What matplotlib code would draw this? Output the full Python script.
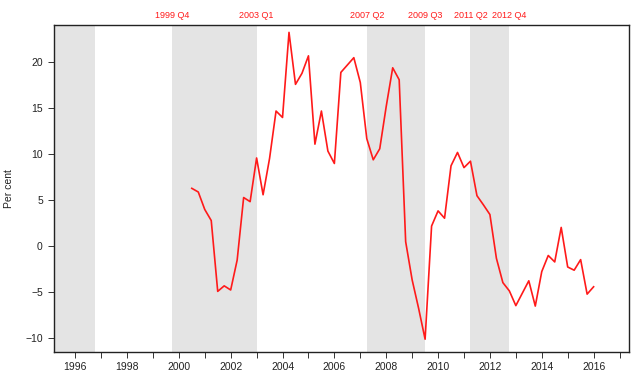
import numpy as np
import matplotlib
matplotlib.use("Agg")
import matplotlib.pyplot as plt

plt.rcParams['font.family'] = ['Liberation Sans', 'DejaVu Sans']

# quarterly series, 2000 Q3 to 2016 Q1
start = 2000.5
values = [6.3, 5.9, 4.0, 2.8, -4.9, -4.3, -4.75, -1.5,
          5.3, 4.85, 9.6, 5.6, 9.55, 14.7, 14.0, 23.25,
          17.6, 18.8, 20.7, 11.1, 14.7, 10.35, 9.0, 18.9,
          19.7, 20.5, 17.8, 11.7, 9.4, 10.6, 15.2, 19.4,
          18.1, 0.5, -3.65, -6.75, -10.1, 2.2, 3.85, 3.05,
          8.75, 10.2, 8.55, 9.25, 5.5, 4.5, 3.45, -1.3,
          -3.95, -4.85, -6.45, -5.1, -3.75, -6.5, -2.75, -1.0,
          -1.7, 2.05, -2.25, -2.6, -1.45, -5.2, -4.4]
dates = start + np.arange(len(values)) / 4

# shaded periods
shade_start = [1995.0, 1999.75, 2007.25, 2011.25]
shade_end = [1996.75, 2003.0, 2009.5, 2012.75]
shade_labels = ['1999 Q4', '2003 Q1', '2007 Q2', '2009 Q3', '2011 Q2', '2012 Q4']
label_pos = [1999.75, 2003.0, 2007.25, 2009.5, 2011.25, 2012.75]

fig = plt.figure(figsize=(6.4, 3.79), dpi=100)
ax = fig.add_axes([0.085, 0.071, 0.898, 0.863])

for s, e in zip(shade_start, shade_end):
    ax.axvspan(s, e, color='#e4e4e4', lw=0, zorder=0)

ax.plot(dates, values, color='#ff1a1a', lw=1.2, zorder=3)

ax.set_xlim(1995.2, 2017.37)
ax.set_ylim(-11.5, 24.05)

ax.set_yticks(np.arange(-10, 21, 5))
ax.set_xticks(np.arange(1996, 2017, 2))
ax.set_xticks(np.arange(1996, 2018, 1), minor=True)
ax.tick_params(axis='both', which='both', direction='out', length=4.3,
               width=0.7, colors='#333333', labelsize=7.5, labelcolor='#222222')
ax.tick_params(axis='x', pad=3)
ax.tick_params(axis='y', pad=4)
ax.set_ylabel('Per cent', fontsize=7.5, color='#222222', labelpad=8)

for sp in ax.spines.values():
    sp.set_linewidth(1.0)
    sp.set_color('#222222')

for lab, p in zip(shade_labels, label_pos):
    ax.text(p, 1.015, lab, transform=ax.get_xaxis_transform(), ha='center',
            va='bottom', color='#ff1a1a', fontsize=6.5)

fig.savefig('out.png', dpi=100)
